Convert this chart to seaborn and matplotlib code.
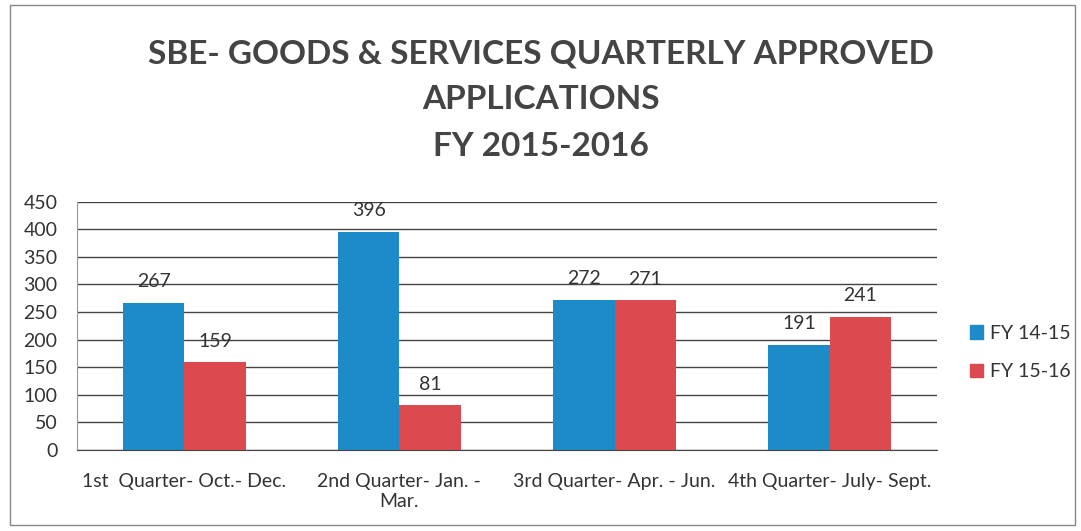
import matplotlib
matplotlib.use("Agg")
import matplotlib.pyplot as plt
import seaborn as sns
import pandas as pd
from matplotlib.patches import Rectangle

# data
quarters = ["1st  Quarter- Oct.- Dec.", "2nd Quarter- Jan. -\nMar.",
            "3rd Quarter- Apr. - Jun.", "4th Quarter- July- Sept."]
fy_1415 = [267, 396, 272, 191]
fy_1516 = [159, 81, 271, 241]
series = ["FY 14-15", "FY 15-16"]
colors = ["#1E8BC9", "#DC4A50"]

df = pd.DataFrame({
    "quarter": quarters * 2,
    "value": fy_1415 + fy_1516,
    "fy": [series[0]] * 4 + [series[1]] * 4,
})

sns.set_style("white")
plt.rcParams["font.family"] = ["Lato", "DejaVu Sans"]
txt = "#333333"

fig = plt.figure(figsize=(10.81, 5.31), dpi=100)
ax = fig.add_axes([0.071, 0.153, 0.796, 0.467])

sns.barplot(data=df, x="quarter", y="value", hue="fy", palette=colors,
            width=0.57, saturation=1, linewidth=0, ax=ax, legend=False)

for c in ax.containers:
    ax.bar_label(c, fmt="%d", padding=9, fontsize=14, color=txt)

ax.set_ylim(0, 450)
ax.set_yticks(range(0, 451, 50))
ax.set_xlim(-0.5, 3.5)
ax.set_xlabel("")
ax.set_ylabel("")
ax.yaxis.grid(True, color="#444444", linewidth=1)
ax.set_axisbelow(True)
for s in ["top", "right"]:
    ax.spines[s].set_visible(False)
ax.spines["left"].set_color("#999999")
ax.spines["bottom"].set_color("#444444")
ax.tick_params(axis="both", length=0, labelsize=14, labelcolor=txt)
ax.tick_params(axis="x", pad=17)
ax.tick_params(axis="y", pad=14)

# legend on the right
handles = [Rectangle((0, 0), 1, 1, color=col) for col in colors]
fig.legend(handles, series, loc="center left", bbox_to_anchor=(0.897, 0.336),
           frameon=False, fontsize=14, handlelength=0.7, handleheight=0.7,
           handletextpad=0.35, labelspacing=1.1, borderpad=0, borderaxespad=0,
           labelcolor=txt)

title = "SBE- GOODS & SERVICES QUARTERLY APPROVED\nAPPLICATIONS\nFY 2015-2016"
fig.text(0.5, 0.812, title, ha="center", va="center", fontsize=24,
         fontweight="bold", color="#444444", linespacing=1.72)

# outer chart border
fig.patches.append(Rectangle((0.009, 0.012), 0.985, 0.978, transform=fig.transFigure,
                             fill=False, edgecolor="#888888", linewidth=1))

fig.savefig("out.png", dpi=100, facecolor="white")
